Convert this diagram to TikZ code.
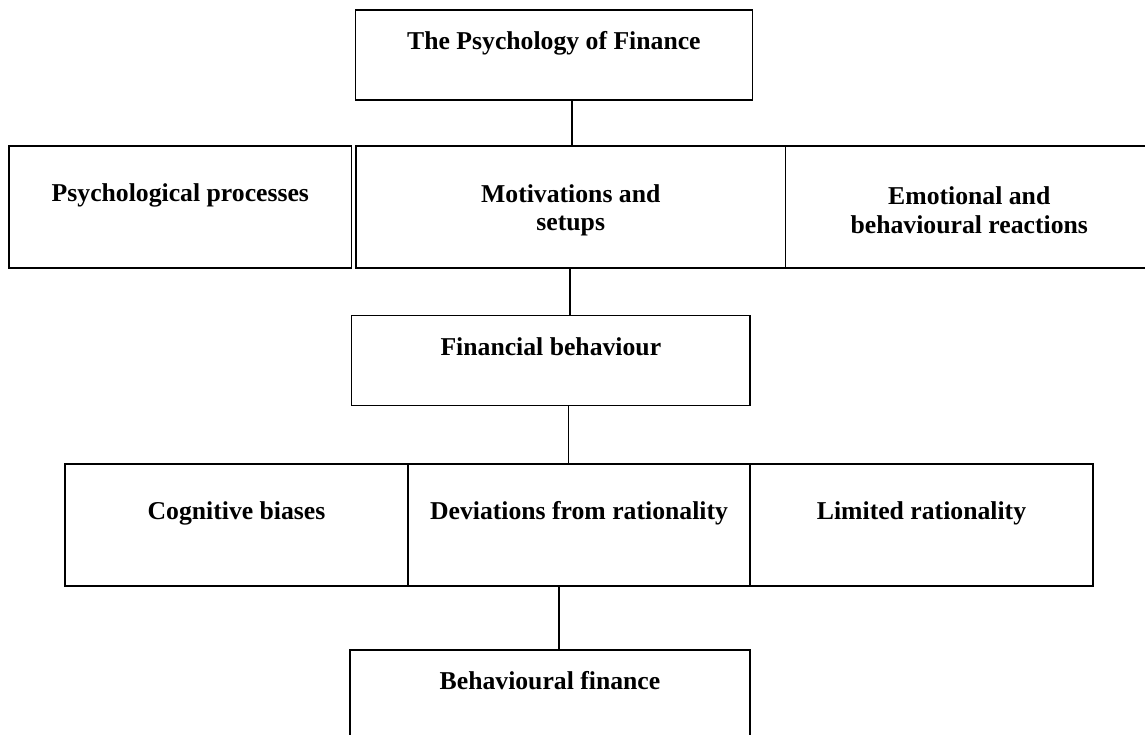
\documentclass[tikz,border=0pt]{standalone}
\usepackage{fontspec}
\setmainfont{Liberation Serif}
\begin{document}
\begin{tikzpicture}[x=1pt,y=-1pt,
  box/.style={draw=black, line width=1.1pt, rectangle, inner sep=0pt, align=center,
    font=\bfseries\fontsize{25.7}{28.5}\selectfont},
  link/.style={draw=black, line width=1.1pt}]
\useasboundingbox (0,0) rectangle (1145,735);
\clip (0,0) rectangle (1145,735);
\node[box, minimum width=396.3, minimum height=90] (top) at (553.9,55) {The Psychology of Finance\\\mbox{}};
\node[box, minimum width=342.7, minimum height=122] (pp) at (180.35,207) {Psychological processes\\\mbox{}};
\node[box, minimum width=429.5, minimum height=122] (ms) at (570.75,207) {\rule{0pt}{24pt}Motivations and\\setups};
\node[box, minimum width=367.5, minimum height=122] (eb) at (969.25,207) {\rule{0pt}{24pt}Emotional and\\behavioural reactions};
\node[box, minimum width=398.3, minimum height=90] (fb) at (550.85,360.7) {Financial behaviour\\\mbox{}};
\node[box, minimum width=343, minimum height=122] (cb) at (236.5,525) {Cognitive biases\\\mbox{}};
\node[box, minimum width=342, minimum height=122] (dr) at (579,525) {Deviations from rationality\\\mbox{}};
\node[box, minimum width=343, minimum height=122] (lr) at (921.5,525) {Limited rationality\\\mbox{}};
\node[box, minimum width=400, minimum height=90] (bf) at (550,695) {Behavioural finance\\\mbox{}};
\coordinate (c1) at (572,0);
\coordinate (c2) at (570,0);
\coordinate (c3) at (568.7,0);
\coordinate (c4) at (559,0);
\draw[link] (c1 |- top.south) -- (c1 |- ms.north);
\draw[link] (c2 |- ms.south) -- (c2 |- fb.north);
\draw[link] (c3 |- fb.south) -- (c3 |- dr.north);
\draw[link] (c4 |- dr.south) -- (c4 |- bf.north);
\end{tikzpicture}
\end{document}
